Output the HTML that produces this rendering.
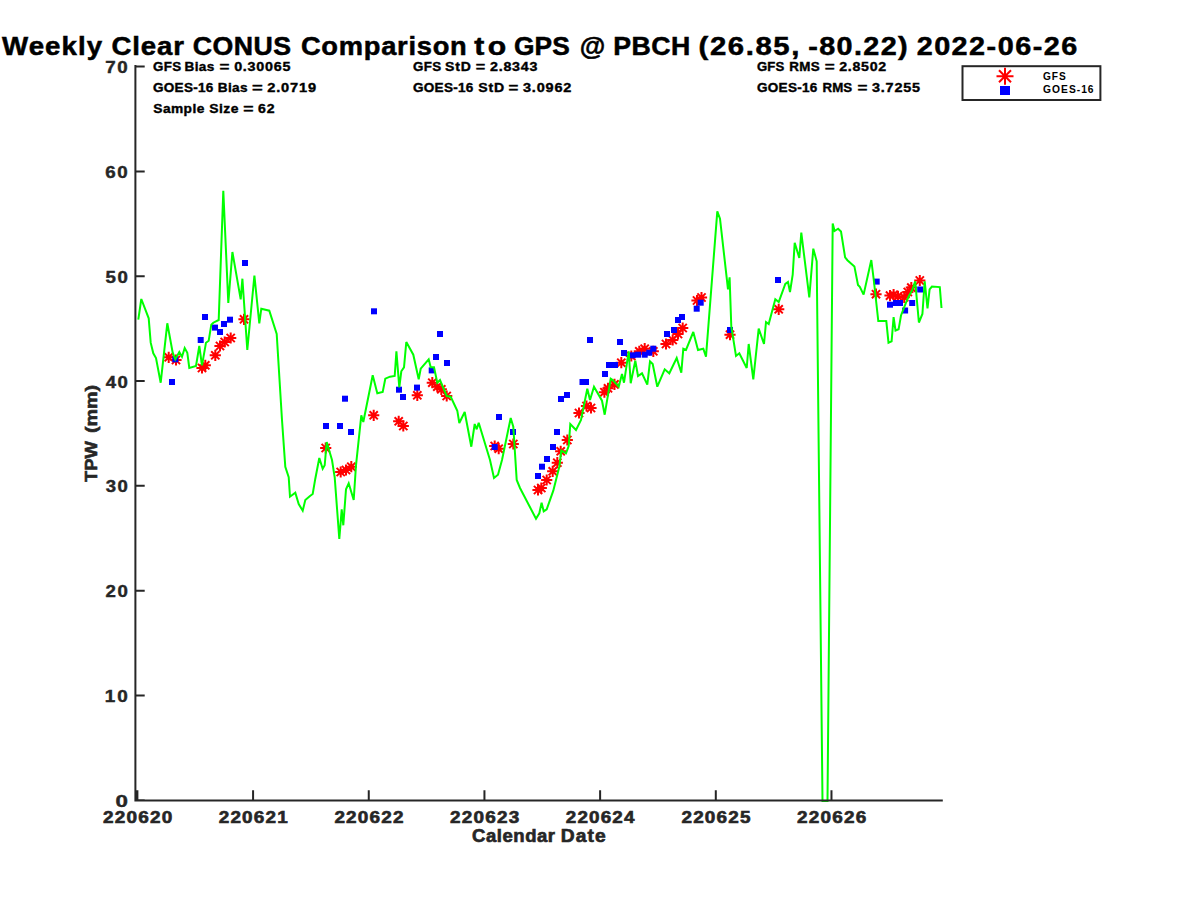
<!DOCTYPE html>
<html><head><meta charset="utf-8"><style>
html,body{margin:0;padding:0;background:#fff;width:1200px;height:900px;overflow:hidden}
svg{display:block}
text{font-family:"Liberation Sans",sans-serif;font-weight:bold}
</style></head><body>
<svg width="1200" height="900" viewBox="0 0 1200 900">
<rect width="1200" height="900" fill="#fff"/>
<defs><clipPath id="cp"><rect x="135" y="65" width="808" height="737"/></clipPath></defs>
<g clip-path="url(#cp)">
<g stroke="#ff0000" stroke-width="2" fill="none"><path transform="translate(168.7,357.3)" d="M-5.6,0H5.6M0,-5.6V5.6M-4.1,-4.1L4.1,4.1M-4.1,4.1L4.1,-4.1"/><path transform="translate(176,360)" d="M-5.6,0H5.6M0,-5.6V5.6M-4.1,-4.1L4.1,4.1M-4.1,4.1L4.1,-4.1"/><path transform="translate(202,368)" d="M-5.6,0H5.6M0,-5.6V5.6M-4.1,-4.1L4.1,4.1M-4.1,4.1L4.1,-4.1"/><path transform="translate(205.3,365.3)" d="M-5.6,0H5.6M0,-5.6V5.6M-4.1,-4.1L4.1,4.1M-4.1,4.1L4.1,-4.1"/><path transform="translate(215.3,355.3)" d="M-5.6,0H5.6M0,-5.6V5.6M-4.1,-4.1L4.1,4.1M-4.1,4.1L4.1,-4.1"/><path transform="translate(220,346)" d="M-5.6,0H5.6M0,-5.6V5.6M-4.1,-4.1L4.1,4.1M-4.1,4.1L4.1,-4.1"/><path transform="translate(224.7,342)" d="M-5.6,0H5.6M0,-5.6V5.6M-4.1,-4.1L4.1,4.1M-4.1,4.1L4.1,-4.1"/><path transform="translate(230.7,338)" d="M-5.6,0H5.6M0,-5.6V5.6M-4.1,-4.1L4.1,4.1M-4.1,4.1L4.1,-4.1"/><path transform="translate(244,319.3)" d="M-5.6,0H5.6M0,-5.6V5.6M-4.1,-4.1L4.1,4.1M-4.1,4.1L4.1,-4.1"/><path transform="translate(325.7,448)" d="M-5.6,0H5.6M0,-5.6V5.6M-4.1,-4.1L4.1,4.1M-4.1,4.1L4.1,-4.1"/><path transform="translate(340.7,472)" d="M-5.6,0H5.6M0,-5.6V5.6M-4.1,-4.1L4.1,4.1M-4.1,4.1L4.1,-4.1"/><path transform="translate(346,470)" d="M-5.6,0H5.6M0,-5.6V5.6M-4.1,-4.1L4.1,4.1M-4.1,4.1L4.1,-4.1"/><path transform="translate(351.3,466.7)" d="M-5.6,0H5.6M0,-5.6V5.6M-4.1,-4.1L4.1,4.1M-4.1,4.1L4.1,-4.1"/><path transform="translate(373.7,415.3)" d="M-5.6,0H5.6M0,-5.6V5.6M-4.1,-4.1L4.1,4.1M-4.1,4.1L4.1,-4.1"/><path transform="translate(398.7,421.3)" d="M-5.6,0H5.6M0,-5.6V5.6M-4.1,-4.1L4.1,4.1M-4.1,4.1L4.1,-4.1"/><path transform="translate(403.3,426)" d="M-5.6,0H5.6M0,-5.6V5.6M-4.1,-4.1L4.1,4.1M-4.1,4.1L4.1,-4.1"/><path transform="translate(417.3,395.3)" d="M-5.6,0H5.6M0,-5.6V5.6M-4.1,-4.1L4.1,4.1M-4.1,4.1L4.1,-4.1"/><path transform="translate(432.3,382.7)" d="M-5.6,0H5.6M0,-5.6V5.6M-4.1,-4.1L4.1,4.1M-4.1,4.1L4.1,-4.1"/><path transform="translate(437.3,386.7)" d="M-5.6,0H5.6M0,-5.6V5.6M-4.1,-4.1L4.1,4.1M-4.1,4.1L4.1,-4.1"/><path transform="translate(441.3,389.3)" d="M-5.6,0H5.6M0,-5.6V5.6M-4.1,-4.1L4.1,4.1M-4.1,4.1L4.1,-4.1"/><path transform="translate(446.7,396)" d="M-5.6,0H5.6M0,-5.6V5.6M-4.1,-4.1L4.1,4.1M-4.1,4.1L4.1,-4.1"/><path transform="translate(494.7,446)" d="M-5.6,0H5.6M0,-5.6V5.6M-4.1,-4.1L4.1,4.1M-4.1,4.1L4.1,-4.1"/><path transform="translate(498.7,448.7)" d="M-5.6,0H5.6M0,-5.6V5.6M-4.1,-4.1L4.1,4.1M-4.1,4.1L4.1,-4.1"/><path transform="translate(513.3,444)" d="M-5.6,0H5.6M0,-5.6V5.6M-4.1,-4.1L4.1,4.1M-4.1,4.1L4.1,-4.1"/><path transform="translate(538,490)" d="M-5.6,0H5.6M0,-5.6V5.6M-4.1,-4.1L4.1,4.1M-4.1,4.1L4.1,-4.1"/><path transform="translate(541.3,488)" d="M-5.6,0H5.6M0,-5.6V5.6M-4.1,-4.1L4.1,4.1M-4.1,4.1L4.1,-4.1"/><path transform="translate(546.7,480)" d="M-5.6,0H5.6M0,-5.6V5.6M-4.1,-4.1L4.1,4.1M-4.1,4.1L4.1,-4.1"/><path transform="translate(552.7,471.3)" d="M-5.6,0H5.6M0,-5.6V5.6M-4.1,-4.1L4.1,4.1M-4.1,4.1L4.1,-4.1"/><path transform="translate(557.3,462.7)" d="M-5.6,0H5.6M0,-5.6V5.6M-4.1,-4.1L4.1,4.1M-4.1,4.1L4.1,-4.1"/><path transform="translate(560.7,451.3)" d="M-5.6,0H5.6M0,-5.6V5.6M-4.1,-4.1L4.1,4.1M-4.1,4.1L4.1,-4.1"/><path transform="translate(567.3,440)" d="M-5.6,0H5.6M0,-5.6V5.6M-4.1,-4.1L4.1,4.1M-4.1,4.1L4.1,-4.1"/><path transform="translate(579,413)" d="M-5.6,0H5.6M0,-5.6V5.6M-4.1,-4.1L4.1,4.1M-4.1,4.1L4.1,-4.1"/><path transform="translate(586.5,406)" d="M-5.6,0H5.6M0,-5.6V5.6M-4.1,-4.1L4.1,4.1M-4.1,4.1L4.1,-4.1"/><path transform="translate(591,408)" d="M-5.6,0H5.6M0,-5.6V5.6M-4.1,-4.1L4.1,4.1M-4.1,4.1L4.1,-4.1"/><path transform="translate(604.4,392.2)" d="M-5.6,0H5.6M0,-5.6V5.6M-4.1,-4.1L4.1,4.1M-4.1,4.1L4.1,-4.1"/><path transform="translate(608,388.3)" d="M-5.6,0H5.6M0,-5.6V5.6M-4.1,-4.1L4.1,4.1M-4.1,4.1L4.1,-4.1"/><path transform="translate(614.5,384.4)" d="M-5.6,0H5.6M0,-5.6V5.6M-4.1,-4.1L4.1,4.1M-4.1,4.1L4.1,-4.1"/><path transform="translate(621.3,362.7)" d="M-5.6,0H5.6M0,-5.6V5.6M-4.1,-4.1L4.1,4.1M-4.1,4.1L4.1,-4.1"/><path transform="translate(631.3,356)" d="M-5.6,0H5.6M0,-5.6V5.6M-4.1,-4.1L4.1,4.1M-4.1,4.1L4.1,-4.1"/><path transform="translate(639.3,351.3)" d="M-5.6,0H5.6M0,-5.6V5.6M-4.1,-4.1L4.1,4.1M-4.1,4.1L4.1,-4.1"/><path transform="translate(644.7,348.7)" d="M-5.6,0H5.6M0,-5.6V5.6M-4.1,-4.1L4.1,4.1M-4.1,4.1L4.1,-4.1"/><path transform="translate(653.3,351.3)" d="M-5.6,0H5.6M0,-5.6V5.6M-4.1,-4.1L4.1,4.1M-4.1,4.1L4.1,-4.1"/><path transform="translate(666,344)" d="M-5.6,0H5.6M0,-5.6V5.6M-4.1,-4.1L4.1,4.1M-4.1,4.1L4.1,-4.1"/><path transform="translate(672.7,340)" d="M-5.6,0H5.6M0,-5.6V5.6M-4.1,-4.1L4.1,4.1M-4.1,4.1L4.1,-4.1"/><path transform="translate(678,334)" d="M-5.6,0H5.6M0,-5.6V5.6M-4.1,-4.1L4.1,4.1M-4.1,4.1L4.1,-4.1"/><path transform="translate(682.7,328)" d="M-5.6,0H5.6M0,-5.6V5.6M-4.1,-4.1L4.1,4.1M-4.1,4.1L4.1,-4.1"/><path transform="translate(697,300.5)" d="M-5.6,0H5.6M0,-5.6V5.6M-4.1,-4.1L4.1,4.1M-4.1,4.1L4.1,-4.1"/><path transform="translate(701.5,297.5)" d="M-5.6,0H5.6M0,-5.6V5.6M-4.1,-4.1L4.1,4.1M-4.1,4.1L4.1,-4.1"/><path transform="translate(730,334.7)" d="M-5.6,0H5.6M0,-5.6V5.6M-4.1,-4.1L4.1,4.1M-4.1,4.1L4.1,-4.1"/><path transform="translate(778.7,309.3)" d="M-5.6,0H5.6M0,-5.6V5.6M-4.1,-4.1L4.1,4.1M-4.1,4.1L4.1,-4.1"/><path transform="translate(876,294.2)" d="M-5.6,0H5.6M0,-5.6V5.6M-4.1,-4.1L4.1,4.1M-4.1,4.1L4.1,-4.1"/><path transform="translate(890,295.6)" d="M-5.6,0H5.6M0,-5.6V5.6M-4.1,-4.1L4.1,4.1M-4.1,4.1L4.1,-4.1"/><path transform="translate(893.6,294.7)" d="M-5.6,0H5.6M0,-5.6V5.6M-4.1,-4.1L4.1,4.1M-4.1,4.1L4.1,-4.1"/><path transform="translate(898,296.4)" d="M-5.6,0H5.6M0,-5.6V5.6M-4.1,-4.1L4.1,4.1M-4.1,4.1L4.1,-4.1"/><path transform="translate(904.2,297.3)" d="M-5.6,0H5.6M0,-5.6V5.6M-4.1,-4.1L4.1,4.1M-4.1,4.1L4.1,-4.1"/><path transform="translate(907.8,292)" d="M-5.6,0H5.6M0,-5.6V5.6M-4.1,-4.1L4.1,4.1M-4.1,4.1L4.1,-4.1"/><path transform="translate(911.3,287.6)" d="M-5.6,0H5.6M0,-5.6V5.6M-4.1,-4.1L4.1,4.1M-4.1,4.1L4.1,-4.1"/><path transform="translate(919.8,280.5)" d="M-5.6,0H5.6M0,-5.6V5.6M-4.1,-4.1L4.1,4.1M-4.1,4.1L4.1,-4.1"/></g>
<g fill="#0000ff"><rect x="169.0" y="379.0" width="6" height="6"/><rect x="172.3" y="356.3" width="6" height="6"/><rect x="197.7" y="337.0" width="6" height="6"/><rect x="202.0" y="314.0" width="6" height="6"/><rect x="212.0" y="324.6" width="6" height="6"/><rect x="217.0" y="329.0" width="6" height="6"/><rect x="221.0" y="321.0" width="6" height="6"/><rect x="227.0" y="316.7" width="6" height="6"/><rect x="242.0" y="260.0" width="6" height="6"/><rect x="323.0" y="423.0" width="6" height="6"/><rect x="337.0" y="423.0" width="6" height="6"/><rect x="348.0" y="429.0" width="6" height="6"/><rect x="342.0" y="395.7" width="6" height="6"/><rect x="371.0" y="308.3" width="6" height="6"/><rect x="396.0" y="386.7" width="6" height="6"/><rect x="400.0" y="394.0" width="6" height="6"/><rect x="414.0" y="384.6" width="6" height="6"/><rect x="428.7" y="367.4" width="6" height="6"/><rect x="433.0" y="354.0" width="6" height="6"/><rect x="437.0" y="331.0" width="6" height="6"/><rect x="444.0" y="360.0" width="6" height="6"/><rect x="491.7" y="444.0" width="6" height="6"/><rect x="496.0" y="414.0" width="6" height="6"/><rect x="510.0" y="429.0" width="6" height="6"/><rect x="535.0" y="473.0" width="6" height="6"/><rect x="539.0" y="463.7" width="6" height="6"/><rect x="544.0" y="456.0" width="6" height="6"/><rect x="550.0" y="444.0" width="6" height="6"/><rect x="554.0" y="429.0" width="6" height="6"/><rect x="558.0" y="396.0" width="6" height="6"/><rect x="564.0" y="392.0" width="6" height="6"/><rect x="579.5" y="379.0" width="6" height="6"/><rect x="583.0" y="379.0" width="6" height="6"/><rect x="587.0" y="337.0" width="6" height="6"/><rect x="602.0" y="371.0" width="6" height="6"/><rect x="606.0" y="362.0" width="6" height="6"/><rect x="612.0" y="362.0" width="6" height="6"/><rect x="617.0" y="339.0" width="6" height="6"/><rect x="621.0" y="350.0" width="6" height="6"/><rect x="629.7" y="352.3" width="6" height="6"/><rect x="635.0" y="351.7" width="6" height="6"/><rect x="641.7" y="351.7" width="6" height="6"/><rect x="646.3" y="349.7" width="6" height="6"/><rect x="650.3" y="345.7" width="6" height="6"/><rect x="664.0" y="331.0" width="6" height="6"/><rect x="671.0" y="327.0" width="6" height="6"/><rect x="675.0" y="317.0" width="6" height="6"/><rect x="679.0" y="314.0" width="6" height="6"/><rect x="693.7" y="305.7" width="6" height="6"/><rect x="697.7" y="299.7" width="6" height="6"/><rect x="727.0" y="327.0" width="6" height="6"/><rect x="775.0" y="277.0" width="6" height="6"/><rect x="873.7" y="278.6" width="6" height="6"/><rect x="887.0" y="301.7" width="6" height="6"/><rect x="893.0" y="300.0" width="6" height="6"/><rect x="897.0" y="300.0" width="6" height="6"/><rect x="902.1" y="307.5" width="6" height="6"/><rect x="909.2" y="300.0" width="6" height="6"/><rect x="917.2" y="286.5" width="6" height="6"/></g>
<polyline points="138.3,319.7 141.3,299 148.7,318.3 150.7,342.7 153.3,353.3 156,358 160.7,382.7 167.3,323.3 172.7,352.7 175.3,359.3 179.3,352 182,356.7 184.7,348 187.3,352.7 189.3,368 196,366 199.3,346 202,365.3 206,342.7 208.7,340.7 211.3,324.7 213.3,322.7 218.7,320 223.3,190.7 228.3,303 232.4,252 240.7,299.3 242.4,278.7 247.3,350 254.4,275.5 259.3,323.3 261.3,308.7 269.3,310.7 276.7,334 282,420 285.3,466.7 288.7,477.3 290,496.7 295.3,492.7 298.7,504 302.7,510.7 305.3,500 310,496 312.7,494 315.3,478.7 319.3,458 322.7,468.7 324.7,465.3 326.7,442 332,460 334.7,477.3 339.3,539 341.7,509.3 343.3,525.3 346,489.3 348.7,483.3 353.7,500 356,465.3 361.3,415.3 363.3,422 372.7,375.3 377.3,393.3 382.7,392 385.3,378.7 390,376.7 394.7,376 396.4,351.3 399.3,387.3 401.3,371.3 404,367.3 406.3,342 413.3,354.7 418.7,379.3 420.7,368.7 428.7,359.3 430.7,367.3 434,367.3 437.3,382.7 440,380 446.7,396 450.7,396.7 457.3,410.7 459.3,423 464.7,412 471.3,446.7 474.7,424 476.7,429.3 478.7,422.7 490,460 494,478 498,474.7 502,460 510.7,418 513.3,426.7 516.7,480 520,488 536,518.7 539.3,513.3 541.6,502.7 543.7,511.3 546.7,509.3 553.3,490.7 559.3,466.7 561.3,450.7 566,453.3 568.7,446 570.3,424 576,430 581,420 587.3,388.7 590,400 594,386.7 602,400.7 604.7,414.7 610.7,378.7 612.7,380 618.7,386.7 622,374 624,382.7 628.7,351.3 630.7,383.3 635.3,360.7 638,376 642,373.3 647.3,384.7 650,361.3 652.7,364 657.3,386.7 664.7,369.3 669.3,373.3 676.7,358 681.3,372.7 683.3,348.7 686,350 693.3,332 698,350 703.3,348.7 706,356.7 717.3,211.3 720,218.7 728,289.3 729.6,277.3 731.3,326.7 736,356 739.3,353.3 746.7,368 748.7,344 753.3,379.3 758.7,328.7 764,344 766,322 768.7,324 775.3,299.3 778.7,302 785.3,284 788,282 790,292 792.7,274.7 794.7,242.7 799.3,258 801.3,232.7 809.3,297.3 813.3,248.7 816.7,261.3 822.5,801 827.5,801 832.7,223.4 834.6,231 838.1,228.7 841,231.6 845.1,257.3 847.4,260.2 854.4,266.4 858,284.9 859.8,286.8 863.6,294.6 871.3,260 873.9,281 878.3,321 886.3,321.1 888.5,342.7 891.6,341.3 893.6,317.2 895.5,330.5 898.6,329.3 901,315.5 905.6,303.6 908.7,296.4 912.2,290.2 915.2,281.3 918.9,322.5 922.4,314 924.7,281.3 927.5,308.5 929.6,289.3 931.9,286.6 939.8,287.1 941.5,308" fill="none" stroke="#00ff00" stroke-width="2" stroke-linejoin="miter" stroke-miterlimit="3"/>
</g>
<path d="M135.4,65V801.4M134.4,800.4H942.8M135.4,800.30H144.7M135.4,695.48H144.7M135.4,590.66H144.7M135.4,485.84H144.7M135.4,381.02H144.7M135.4,276.20H144.7M135.4,171.38H144.7M135.4,66.56H144.7M137.40,800.4V790.3M253.08,800.4V790.3M368.76,800.4V790.3M484.44,800.4V790.3M600.12,800.4V790.3M715.80,800.4V790.3M831.48,800.4V790.3" stroke="#262626" stroke-width="2" fill="none"/>
<rect x="962.5" y="66.2" width="137.9" height="33.8" fill="#fff" stroke="#262626" stroke-width="2"/>
<path transform="translate(1005,76.2)" d="M-8.5,0H8.5M0,-8.5V8.5M-6.01,-6.01L6.01,6.01M-6.01,6.01L6.01,-6.01" stroke="#ff0000" stroke-width="2" fill="none"/>
<rect x="1000" y="86" width="10" height="9" fill="#0000ff"/>
<text transform="translate(2.00,55.00) scale(1.0592,1)" font-size="26.14" letter-spacing="1.000" fill="#000" stroke="#000" stroke-width="0.52">Weekly</text>
<text transform="translate(111.40,55.00) scale(1.0562,1)" font-size="26.14" letter-spacing="0.852" fill="#000" stroke="#000" stroke-width="0.52">Clear</text>
<text transform="translate(192.68,55.00) scale(1.0215,1)" font-size="26.14" letter-spacing="0.485" fill="#000" stroke="#000" stroke-width="0.52">CONUS</text>
<text transform="translate(300.91,55.00) scale(1.0441,1)" font-size="26.14" letter-spacing="0.702" fill="#000" stroke="#000" stroke-width="0.52">Comparison</text>
<text transform="translate(474.20,55.00) scale(1.1554,1)" font-size="26.14" letter-spacing="3.130" fill="#000" stroke="#000" stroke-width="0.52">to</text>
<text transform="translate(513.95,55.00) scale(1.0064,1)" font-size="26.14" letter-spacing="0.169" fill="#000" stroke="#000" stroke-width="0.52">GPS</text>
<text transform="translate(579.68,55.00) scale(1.0008,1)" font-size="26.14" letter-spacing="0.000" fill="#000" stroke="#000" stroke-width="0.52">@</text>
<text transform="translate(613.13,55.00) scale(1.0224,1)" font-size="26.14" letter-spacing="0.516" fill="#000" stroke="#000" stroke-width="0.52">PBCH</text>
<text transform="translate(698.53,55.00) scale(1.1216,1)" font-size="26.14" letter-spacing="1.417" fill="#000" stroke="#000" stroke-width="0.52">(26.85,</text>
<text transform="translate(808.35,55.00) scale(1.1008,1)" font-size="26.14" letter-spacing="1.229" fill="#000" stroke="#000" stroke-width="0.52">-80.22)</text>
<text transform="translate(916.64,55.00) scale(1.1012,1)" font-size="26.14" letter-spacing="1.348" fill="#000" stroke="#000" stroke-width="0.52">2022-06-26</text>
<text transform="translate(152.97,70.80) scale(1.0271,1)" font-size="13.00" letter-spacing="0.338" fill="#000" stroke="#000" stroke-width="0.39">GFS</text>
<text transform="translate(184.45,70.80) scale(1.0442,1)" font-size="13.00" letter-spacing="0.367" fill="#000" stroke="#000" stroke-width="0.39">Bias</text>
<text transform="translate(219.42,70.80) scale(1.3077,1)" font-size="13.00" letter-spacing="0.000" fill="#000" stroke="#000" stroke-width="0.39">=</text>
<text transform="translate(234.13,70.80) scale(1.1013,1)" font-size="13.00" letter-spacing="0.707" fill="#000" stroke="#000" stroke-width="0.39">0.30065</text>
<text transform="translate(152.96,91.70) scale(1.0314,1)" font-size="13.14" letter-spacing="0.284" fill="#000" stroke="#000" stroke-width="0.39">GOES-16</text>
<text transform="translate(217.74,91.70) scale(1.0383,1)" font-size="13.14" letter-spacing="0.323" fill="#000" stroke="#000" stroke-width="0.39">Bias</text>
<text transform="translate(251.96,91.70) scale(1.4000,1)" font-size="13.14" letter-spacing="0.000" fill="#000" stroke="#000" stroke-width="0.39">=</text>
<text transform="translate(267.16,91.70) scale(1.1120,1)" font-size="13.14" letter-spacing="0.792" fill="#000" stroke="#000" stroke-width="0.39">2.0719</text>
<text transform="translate(153.29,112.50) scale(1.0472,1)" font-size="13.14" letter-spacing="0.414" fill="#000" stroke="#000" stroke-width="0.39">Sample</text>
<text transform="translate(209.28,112.50) scale(1.0569,1)" font-size="13.14" letter-spacing="0.458" fill="#000" stroke="#000" stroke-width="0.39">Size</text>
<text transform="translate(243.20,112.50) scale(1.3391,1)" font-size="13.14" letter-spacing="0.000" fill="#000" stroke="#000" stroke-width="0.39">=</text>
<text transform="translate(257.94,112.50) scale(1.0688,1)" font-size="13.14" letter-spacing="0.871" fill="#000" stroke="#000" stroke-width="0.39">62</text>
<text transform="translate(412.97,70.80) scale(1.0271,1)" font-size="13.00" letter-spacing="0.338" fill="#000" stroke="#000" stroke-width="0.39">GFS</text>
<text transform="translate(444.98,70.80) scale(1.0781,1)" font-size="13.00" letter-spacing="0.777" fill="#000" stroke="#000" stroke-width="0.39">StD</text>
<text transform="translate(475.65,70.80) scale(1.2462,1)" font-size="13.00" letter-spacing="0.000" fill="#000" stroke="#000" stroke-width="0.39">=</text>
<text transform="translate(490.07,70.80) scale(1.0956,1)" font-size="13.00" letter-spacing="0.678" fill="#000" stroke="#000" stroke-width="0.39">2.8343</text>
<text transform="translate(412.96,91.70) scale(1.0314,1)" font-size="13.14" letter-spacing="0.284" fill="#000" stroke="#000" stroke-width="0.39">GOES-16</text>
<text transform="translate(478.28,91.70) scale(1.0718,1)" font-size="13.14" letter-spacing="0.726" fill="#000" stroke="#000" stroke-width="0.39">StD</text>
<text transform="translate(508.53,91.70) scale(1.2783,1)" font-size="13.14" letter-spacing="0.000" fill="#000" stroke="#000" stroke-width="0.39">=</text>
<text transform="translate(523.01,91.70) scale(1.1024,1)" font-size="13.14" letter-spacing="0.732" fill="#000" stroke="#000" stroke-width="0.39">3.0962</text>
<text transform="translate(756.97,70.80) scale(1.0115,1)" font-size="13.00" letter-spacing="0.146" fill="#000" stroke="#000" stroke-width="0.39">GFS</text>
<text transform="translate(789.16,70.80) scale(1.0304,1)" font-size="13.00" letter-spacing="0.405" fill="#000" stroke="#000" stroke-width="0.39">RMS</text>
<text transform="translate(824.82,70.80) scale(1.3077,1)" font-size="13.00" letter-spacing="0.000" fill="#000" stroke="#000" stroke-width="0.39">=</text>
<text transform="translate(839.27,70.80) scale(1.0917,1)" font-size="13.00" letter-spacing="0.653" fill="#000" stroke="#000" stroke-width="0.39">2.8502</text>
<text transform="translate(756.96,91.70) scale(1.0314,1)" font-size="13.14" letter-spacing="0.284" fill="#000" stroke="#000" stroke-width="0.39">GOES-16</text>
<text transform="translate(822.47,91.70) scale(1.0103,1)" font-size="13.14" letter-spacing="0.141" fill="#000" stroke="#000" stroke-width="0.39">RMS</text>
<text transform="translate(857.42,91.70) scale(1.2935,1)" font-size="13.14" letter-spacing="0.000" fill="#000" stroke="#000" stroke-width="0.39">=</text>
<text transform="translate(872.01,91.70) scale(1.0991,1)" font-size="13.14" letter-spacing="0.713" fill="#000" stroke="#000" stroke-width="0.39">3.7255</text>
<text transform="translate(115.61,806.80) scale(1.3032,1)" font-size="17.14" letter-spacing="0.000" fill="#262626" stroke="#262626" stroke-width="0.43">0</text>
<text transform="translate(104.86,701.98) scale(1.1064,1)" font-size="17.14" letter-spacing="1.666" fill="#262626" stroke="#262626" stroke-width="0.43">10</text>
<text transform="translate(105.44,597.16) scale(1.0889,1)" font-size="17.14" letter-spacing="1.456" fill="#262626" stroke="#262626" stroke-width="0.43">20</text>
<text transform="translate(105.63,492.34) scale(1.0833,1)" font-size="17.14" letter-spacing="1.385" fill="#262626" stroke="#262626" stroke-width="0.43">30</text>
<text transform="translate(105.63,387.52) scale(1.0833,1)" font-size="17.14" letter-spacing="1.385" fill="#262626" stroke="#262626" stroke-width="0.43">40</text>
<text transform="translate(105.44,282.70) scale(1.0889,1)" font-size="17.14" letter-spacing="1.456" fill="#262626" stroke="#262626" stroke-width="0.43">50</text>
<text transform="translate(105.25,177.88) scale(1.0947,1)" font-size="17.14" letter-spacing="1.527" fill="#262626" stroke="#262626" stroke-width="0.43">60</text>
<text transform="translate(105.25,73.06) scale(1.0947,1)" font-size="17.14" letter-spacing="1.527" fill="#262626" stroke="#262626" stroke-width="0.43">70</text>
<text transform="translate(103.03,822.70) scale(1.1084,1)" font-size="17.14" letter-spacing="1.093" fill="#262626" stroke="#262626" stroke-width="0.60">220620</text>
<text transform="translate(218.71,822.70) scale(1.1047,1)" font-size="17.14" letter-spacing="1.066" fill="#262626" stroke="#262626" stroke-width="0.60">220621</text>
<text transform="translate(334.39,822.70) scale(1.1065,1)" font-size="17.14" letter-spacing="1.079" fill="#262626" stroke="#262626" stroke-width="0.60">220622</text>
<text transform="translate(450.07,822.70) scale(1.1065,1)" font-size="17.14" letter-spacing="1.079" fill="#262626" stroke="#262626" stroke-width="0.60">220623</text>
<text transform="translate(565.75,822.70) scale(1.1010,1)" font-size="17.14" letter-spacing="1.038" fill="#262626" stroke="#262626" stroke-width="0.60">220624</text>
<text transform="translate(681.43,822.70) scale(1.1047,1)" font-size="17.14" letter-spacing="1.066" fill="#262626" stroke="#262626" stroke-width="0.60">220625</text>
<text transform="translate(797.11,822.70) scale(1.1065,1)" font-size="17.14" letter-spacing="1.079" fill="#262626" stroke="#262626" stroke-width="0.60">220626</text>
<text transform="translate(471.96,841.60) scale(1.0529,1)" font-size="17.57" letter-spacing="0.532" fill="#262626" stroke="#262626" stroke-width="0.62">Calendar</text>
<text transform="translate(560.65,841.60) scale(1.0940,1)" font-size="17.57" letter-spacing="1.036" fill="#262626" stroke="#262626" stroke-width="0.62">Date</text>
<text transform="translate(96.9,481.88) rotate(-90) scale(1.0563,1)" font-size="17.39" fill="#262626" stroke="#262626" stroke-width="0.6">TPW</text>
<text transform="translate(96.9,433.09) rotate(-90) scale(1.1329,1)" font-size="17.39" fill="#262626" stroke="#262626" stroke-width="0.6">(mm)</text>
<text transform="translate(1043.09,79.75) scale(1.0156,1)" font-size="10.00" letter-spacing="0.858" fill="#000" stroke="#000" stroke-width="0.00">GFS</text>
<text transform="translate(1043.09,92.75) scale(1.0252,1)" font-size="10.00" letter-spacing="0.988" fill="#000" stroke="#000" stroke-width="0.00">GOES-16</text>
</svg>
</body></html>
